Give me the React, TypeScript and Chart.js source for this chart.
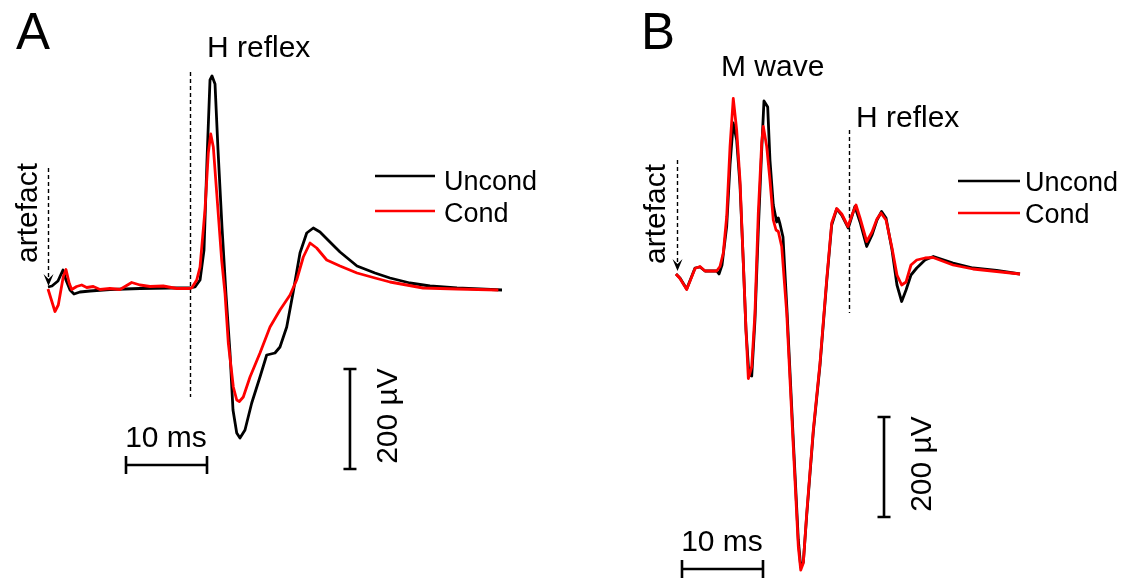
import React, { useEffect, useRef } from "react";
import { Chart, registerables } from "chart.js";
Chart.register(...registerables);

// ---------------- data (time in ms after stimulus artefact, amplitude in µV) ----------------
const A_T_UNCOND = [0, 0.49, 1.23, 1.85, 2.22, 2.72, 3.21, 3.95, 5.19, 7.65, 11.36, 15.06, 17.53, 18.15, 18.77, 19.26, 19.63, 20.0, 20.25, 20.62, 20.99, 21.48, 21.98, 22.47, 22.84, 23.3, 23.7, 24.32, 25.15, 26.17, 27.0, 28.02, 28.64, 29.47, 30.25, 31.11, 31.94, 32.75, 33.58, 34.81, 36.05, 38.15, 40.37, 42.22, 44.69, 47.16, 50.49, 53.33, 56.05];
const A_V_UNCOND = [2, 4, 14, 36, 16, -4, -12, -8, -6, -3, -1, 0, 0, 2, 16, 76, 256, 416, 424, 408, 276, 122, -14, -130, -244, -290, -300, -284, -230, -178, -134, -130, -118, -78, -10, 70, 110, 120, 112, 92, 72, 44, 30, 20, 10, 4, 0, -2, -4];
const A_T_COND = [0, 0.86, 1.27, 1.89, 2.22, 2.63, 2.93, 3.54, 4.16, 4.78, 5.59, 6.42, 7.65, 8.89, 10.33, 11.36, 12.59, 14.23, 15.89, 17.53, 17.74, 18.36, 18.77, 19.38, 19.79, 20.09, 20.41, 20.83, 21.44, 21.85, 22.26, 22.88, 23.3, 23.62, 24.11, 24.94, 26.17, 27.41, 28.64, 29.88, 30.7, 31.52, 32.35, 33.17, 34.41, 36.05, 38.15, 40.37, 42.22, 46.3, 50.49, 55.6];
const A_V_COND = [-2, -47, -34, 23, 37, 9, -3, 3, 6, 1, 3, -3, -1, -3, 11, 6, 3, 4, -1, -1, 0, 16, 42, 156, 270, 308, 282, 190, 56, -10, -110, -198, -224, -227, -218, -178, -130, -78, -44, -14, 16, 62, 90, 80, 56, 44, 30, 20, 12, 0, -2, -4];

const B_T_UNCOND = [0, 0.49, 1.32, 2.35, 2.96, 3.58, 5.02, 5.31, 5.68, 6.26, 6.67, 7.07, 7.49, 7.9, 8.31, 8.64, 9.01, 9.35, 9.75, 10.16, 10.58, 10.86, 11.32, 11.6, 12.01, 12.43, 12.63, 12.84, 13.21, 13.7, 14.48, 15.1, 15.4, 15.72, 16.14, 16.95, 17.78, 18.6, 19.22, 19.84, 20.46, 21.27, 21.73, 22.09, 22.72, 23.54, 24.2, 24.81, 25.38, 25.93, 26.67, 27.28, 27.86, 28.4, 29.01, 29.72, 30.74, 31.77, 34.2, 36.67, 39.59, 42.47];
const B_V_UNCOND = [-6, -14, -36, 6, 8, 0, 0, -6, 12, 90, 212, 296, 262, 172, 18, -118, -208, -210, -98, 82, 242, 340, 328, 222, 132, 98, 106, 94, 68, -78, -338, -538, -592, -582, -488, -322, -188, -22, 92, 124, 112, 86, 110, 129, 98, 49, 72, 102, 119, 106, 42, -28, -61, -38, -8, 6, 22, 29, 16, 6, 1, -6];
const B_T_COND = [0, 0.49, 1.32, 2.35, 2.96, 3.58, 5.02, 5.43, 5.84, 6.26, 6.67, 7.07, 7.49, 7.9, 8.31, 8.64, 8.93, 9.35, 9.75, 10.16, 10.58, 10.78, 11.2, 11.6, 12.01, 12.35, 12.63, 13.05, 13.67, 14.48, 15.1, 15.4, 15.72, 16.14, 16.95, 17.78, 18.6, 19.22, 19.84, 20.46, 21.23, 21.73, 22.22, 22.72, 23.54, 24.2, 24.81, 25.31, 25.93, 26.67, 27.28, 27.86, 28.4, 29.01, 29.72, 30.74, 31.73, 34.2, 36.67, 39.59, 42.47];
const B_V_COND = [-6, -15, -37, 5, 9, 0, 0, 9, 36, 109, 249, 345, 282, 182, 16, -118, -215, -191, -84, 116, 256, 289, 249, 182, 102, 82, 79, 49, -84, -351, -551, -598, -584, -484, -318, -184, -18, 96, 125, 114, 89, 112, 132, 106, 59, 78, 104, 116, 102, 46, -8, -28, -22, 12, 22, 26, 27, 12, 4, -1, -6];

const SERIES_NAMES = ["Uncond", "Cond"];
const SCALE_MS = 10;
const SCALE_UV = 200;

// ---------------- styling ----------------
const FONT = '"Liberation Sans", Arial, Helvetica, sans-serif';
const BLACK = "#000000";
const RED = "#ff0000";
const W = 1130;
const H = 583;
const LABEL = 30;

type Txt = { text: string; x: number; y: number; size: number; rot?: boolean; align?: CanvasTextAlign };

interface Panel {
  tU: number[]; vU: number[]; tC: number[]; vC: number[];
  xMin: number; xMax: number; yMin: number; yMax: number;
  pad: { left: number; right: number; top: number; bottom: number };
  dashT: number; dashV: [number, number];
  arrowT: number; arrowV: [number, number];
  barH: { t: number; v: number }; barV: { t: number; v: number };
  legend: { x1: number; x2: number; yU: number; yC: number; tx: number; tyU: number; tyC: number };
  texts: Txt[];
}

const PANEL_A: Panel = {
  tU: A_T_UNCOND, vU: A_V_UNCOND, tC: A_T_COND, vC: A_V_COND,
  xMin: -4, xMax: 58, yMin: -400, yMax: 500,
  pad: { left: 15.6, right: W - 517.8, top: 38, bottom: H - 488 },
  dashT: 17.53, dashV: [432, -218],
  arrowT: 0, arrowV: [240, 4],
  barH: { t: 9.63, v: -354 }, barV: { t: 37.28, v: -362 },
  legend: { x1: 375, x2: 435, yU: 176, yC: 211, tx: 444, tyU: 190, tyC: 222 },
  texts: [
    { text: "A", x: 16, y: 49, size: 51 },
    { text: "H reflex", x: 207, y: 57, size: LABEL },
    { text: "10 ms", x: 166, y: 447, size: LABEL, align: "center" },
    { text: "artefact", x: 37, y: 213, size: LABEL, rot: true },
    { text: "200 µV", x: 397, y: 416, size: LABEL, rot: true },
  ],
};

const PANEL_B: Panel = {
  tU: B_T_UNCOND, vU: B_V_UNCOND, tC: B_T_COND, vC: B_V_COND,
  xMin: -4, xMax: 46, yMin: -620, yMax: 500,
  pad: { left: 643.6, right: W - 1048.6, top: 21, bottom: H - 581 },
  dashT: 21.36, dashV: [282, -84],
  arrowT: 0.1, arrowV: [222, 0],
  barH: { t: 0.74, v: -596 }, barV: { t: 25.68, v: -492 },
  legend: { x1: 958, x2: 1020, yU: 181, yC: 213, tx: 1025, tyU: 191, tyC: 223 },
  texts: [
    { text: "B", x: 641, y: 49, size: 51 },
    { text: "M wave", x: 721, y: 76, size: LABEL },
    { text: "H reflex", x: 856, y: 127, size: LABEL },
    { text: "10 ms", x: 722, y: 551, size: LABEL, align: "center" },
    { text: "artefact", x: 665, y: 214, size: LABEL, rot: true },
    { text: "200 µV", x: 931, y: 464, size: LABEL, rot: true },
  ],
};

function makePlugin(p: Panel) {
  return {
    id: "annot",
    beforeDatasetsDraw(chart: any) {
      const ctx: CanvasRenderingContext2D = chart.ctx;
      const xs = chart.scales.x;
      const ys = chart.scales.y;
      ctx.save();
      ctx.strokeStyle = BLACK;
      ctx.fillStyle = BLACK;
      // dashed marker line
      ctx.setLineDash([4, 3]);
      ctx.lineWidth = 1.4;
      const dx = Math.round(xs.getPixelForValue(p.dashT)) + 0.5;
      ctx.beginPath();
      ctx.moveTo(dx, ys.getPixelForValue(p.dashV[0]));
      ctx.lineTo(dx, ys.getPixelForValue(p.dashV[1]));
      ctx.stroke();
      // artefact arrow
      const ax = Math.round(xs.getPixelForValue(p.arrowT)) + 0.5;
      const ay1 = ys.getPixelForValue(p.arrowV[0]);
      const tip = ys.getPixelForValue(p.arrowV[1]);
      ctx.beginPath();
      ctx.moveTo(ax, ay1);
      ctx.lineTo(ax, tip - 6);
      ctx.stroke();
      ctx.setLineDash([]);
      ctx.beginPath();
      ctx.moveTo(ax, tip);
      ctx.lineTo(ax - 5, tip - 12);
      ctx.lineTo(ax, tip - 7);
      ctx.lineTo(ax + 5, tip - 12);
      ctx.closePath();
      ctx.fill();
      ctx.restore();
    },
    afterDraw(chart: any) {
      const ctx: CanvasRenderingContext2D = chart.ctx;
      const xs = chart.scales.x;
      const ys = chart.scales.y;
      ctx.save();
      ctx.strokeStyle = BLACK;
      ctx.fillStyle = BLACK;
      ctx.lineWidth = 2.6;
      ctx.lineCap = "butt";
      // horizontal scale bar (10 ms)
      const hx1 = xs.getPixelForValue(p.barH.t);
      const hx2 = xs.getPixelForValue(p.barH.t + SCALE_MS);
      const hy = ys.getPixelForValue(p.barH.v);
      ctx.beginPath();
      ctx.moveTo(hx1, hy); ctx.lineTo(hx2, hy);
      ctx.moveTo(hx1, hy - 9); ctx.lineTo(hx1, hy + 9);
      ctx.moveTo(hx2, hy - 9); ctx.lineTo(hx2, hy + 9);
      ctx.stroke();
      // vertical scale bar (200 µV)
      const vx = xs.getPixelForValue(p.barV.t);
      const vy1 = ys.getPixelForValue(p.barV.v);
      const vy2 = ys.getPixelForValue(p.barV.v + SCALE_UV);
      ctx.beginPath();
      ctx.moveTo(vx, vy1); ctx.lineTo(vx, vy2);
      ctx.moveTo(vx - 6.5, vy1); ctx.lineTo(vx + 6.5, vy1);
      ctx.moveTo(vx - 6.5, vy2); ctx.lineTo(vx + 6.5, vy2);
      ctx.stroke();
      // legend
      const L = p.legend;
      ctx.lineWidth = 2.6;
      ctx.strokeStyle = BLACK;
      ctx.beginPath(); ctx.moveTo(L.x1, L.yU); ctx.lineTo(L.x2, L.yU); ctx.stroke();
      ctx.strokeStyle = RED;
      ctx.beginPath(); ctx.moveTo(L.x1, L.yC); ctx.lineTo(L.x2, L.yC); ctx.stroke();
      ctx.font = `27px ${FONT}`;
      ctx.textAlign = "left";
      ctx.textBaseline = "alphabetic";
      ctx.fillText(SERIES_NAMES[0], L.tx, L.tyU);
      ctx.fillText(SERIES_NAMES[1], L.tx, L.tyC);
      // texts
      for (const t of p.texts) {
        ctx.font = `${t.size}px ${FONT}`;
        if (t.rot) {
          ctx.save();
          ctx.translate(t.x, t.y);
          ctx.rotate(-Math.PI / 2);
          ctx.textAlign = "center";
          ctx.textBaseline = "alphabetic";
          ctx.fillText(t.text, 0, 0);
          ctx.restore();
        } else {
          ctx.textAlign = t.align || "left";
          ctx.textBaseline = "alphabetic";
          ctx.fillText(t.text, t.x, t.y);
        }
      }
      ctx.restore();
    },
  };
}

function buildChart(canvas: HTMLCanvasElement, p: Panel) {
  const toXY = (ts: number[], vs: number[]) => ts.map((t, i) => ({ x: t, y: vs[i] }));
  return new Chart(canvas, {
    type: "line",
    data: {
      datasets: [
        {
          label: SERIES_NAMES[0],
          data: toXY(p.tU, p.vU),
          borderColor: BLACK,
          borderWidth: 2.8,
          pointRadius: 0,
          tension: 0,
          fill: false,
          order: 1,
          borderJoinStyle: "round",
        },
        {
          label: SERIES_NAMES[1],
          data: toXY(p.tC, p.vC),
          borderColor: RED,
          borderWidth: 2.8,
          pointRadius: 0,
          tension: 0,
          fill: false,
          order: 0,
          borderJoinStyle: "round",
        },
      ],
    },
    options: {
      responsive: false,
      animation: false,
      events: [],
      layout: { padding: p.pad },
      plugins: { legend: { display: false }, tooltip: { enabled: false }, title: { display: false } },
      scales: {
        x: { type: "linear", min: p.xMin, max: p.xMax, display: false },
        y: { type: "linear", min: p.yMin, max: p.yMax, display: false },
      },
    },
    plugins: [makePlugin(p)],
  } as any);
}

export default function App() {
  const refA = useRef<HTMLCanvasElement>(null);
  const refB = useRef<HTMLCanvasElement>(null);
  useEffect(() => {
    const ca = buildChart(refA.current!, PANEL_A);
    const cb = buildChart(refB.current!, PANEL_B);
    return () => {
      ca.destroy();
      cb.destroy();
    };
  }, []);
  const cstyle: React.CSSProperties = { position: "absolute", left: 0, top: 0, width: W, height: H };
  return (
    <div style={{ position: "fixed", left: 0, top: 0, width: W, height: H, background: "#ffffff" }}>
      <canvas ref={refA} width={W} height={H} style={cstyle} />
      <canvas ref={refB} width={W} height={H} style={cstyle} />
    </div>
  );
}
